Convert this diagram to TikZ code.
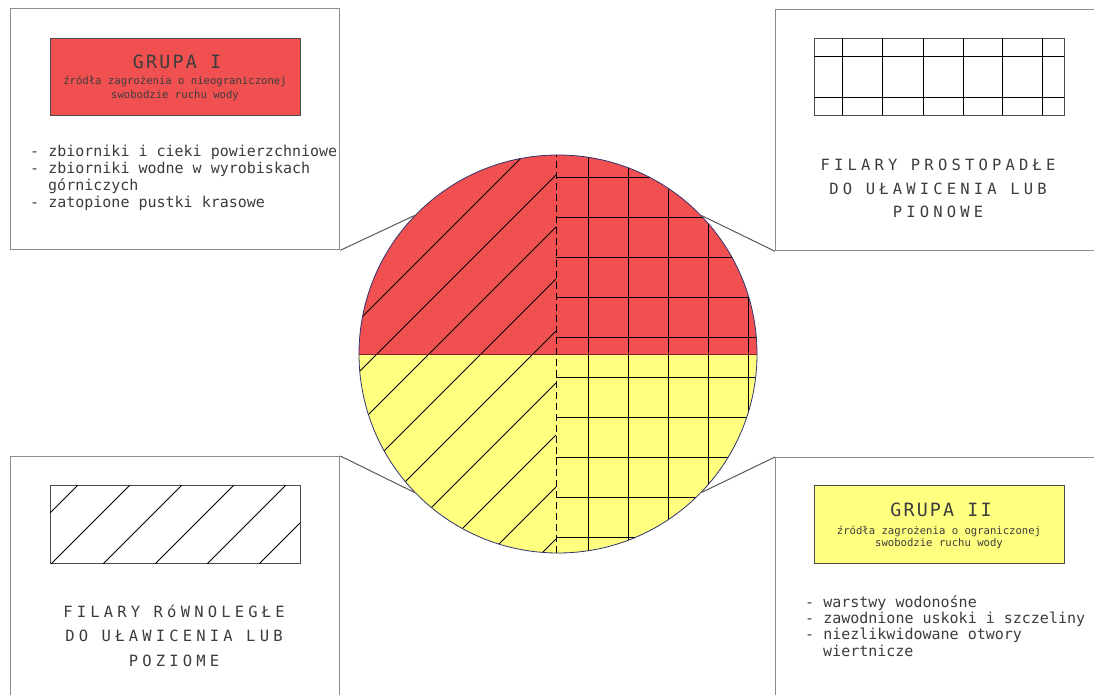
\documentclass[tikz,border=0pt]{standalone}
\usepackage{fontspec}
\newfontfamily\cad{DejaVu Sans Mono}
\newfontfamily\cadw{DejaVu Sans Mono}[LetterSpace=27]
\newfontfamily\cadg{DejaVu Sans Mono}[LetterSpace=12]
\definecolor{grpred}{RGB}{240,80,80}
\definecolor{grpyel}{RGB}{255,255,128}
\definecolor{txtgray}{RGB}{60,60,60}
\definecolor{framegray}{RGB}{140,140,140}
\definecolor{rim}{RGB}{50,50,110}
\definecolor{splitred}{RGB}{140,30,40}
\begin{document}
\begin{tikzpicture}[x=1pt,y=-1pt,
  frame/.style={draw=framegray, line width=1.3pt, rectangle, inner sep=0pt, anchor=north west},
  link/.style={draw=black!65, line width=1pt},
  hatchline/.style={black, line width=0.8pt},
  legend/.style={draw=black!70, line width=0.9pt, rectangle, inner sep=0pt, anchor=north west},
  lst/.style={font=\cad\fontsize{15}{17}\selectfont, text=txtgray, anchor=base west, inner sep=0pt},
  capt/.style={font=\cadw\fontsize{15.5}{18}\selectfont, text=txtgray, anchor=base, inner sep=0pt},
  ttl/.style={font=\cadg\fontsize{18.3}{20}\selectfont, text=txtgray, anchor=base, inner sep=0pt},
  sub/.style={font=\cad\fontsize{10.6}{12}\selectfont, text=txtgray, anchor=base, inner sep=0pt},
]
\useasboundingbox (0,0) rectangle (1094,695);
\fill[white] (0,0) rectangle (1094,695);
\clip (0,0) rectangle (1094,695);

% frames
\node[frame, minimum width=329pt, minimum height=241pt] (tl) at (10,8) {};
\node[frame, minimum width=345pt, minimum height=241pt] (tr) at (775,9) {};
\node[frame, minimum width=329pt, minimum height=260pt] (bl) at (10,456) {};
\node[frame, minimum width=345pt, minimum height=260pt] (br) at (775,457) {};

% circle
\begin{scope}
  \clip (558,354) circle [radius=199pt];
  \fill[grpred] (350,140) rectangle (770,354);
  \fill[grpyel] (350,354) rectangle (770,570);
  \begin{scope}
    \clip (340,140) rectangle (556,570);
    \foreach \k in {-3,...,8} \draw[hatchline] (556,175+52*\k) -- ++(-460,460);
  \end{scope}
  \begin{scope}
    \clip (556,140) rectangle (770,570);
    \foreach \xx in {588,628,...,748} \draw[hatchline] (\xx,140) -- (\xx,570);
    \foreach \yy in {177,217,...,537} \draw[hatchline] (556,\yy) -- (770,\yy);
  \end{scope}
  \draw[splitred, line width=1pt] (350,354) -- (770,354);
  \draw[black, line width=0.8pt, dash pattern=on 7pt off 4pt] (556,150) -- (556,560);
\end{scope}
\node[circle, draw=rim, line width=0.8pt, minimum size=398pt, inner sep=0pt] (c) at (558,354) {};

% connectors
\draw[link] (tl.south east) -- (c.136);
\draw[link] (tr.south west) -- (c.44);
\draw[link] (bl.north east) -- (c.224);
\draw[link] (br.north west) -- (c.316);

% legend: group I
\node[legend, fill=grpred, minimum width=250pt, minimum height=77pt] (g1) at (50,38) {};
\node[ttl] (g1t) at (177,68.3) {GRUPA I};
\node[sub] (g1s1) at (175,85) {źródła zagrożenia o nieograniczonej};
\node[sub] (g1s2) at (175,98.3) {swobodzie ruchu wody};
\node[lst] (l11) at (30,156.7) {- zbiorniki i cieki powierzchniowe};
\node[lst] (l12) at (30,173.3) {- zbiorniki wodne w wyrobiskach};
\node[lst] (l13) at (48,190) {górniczych};
\node[lst] (l14) at (30,207.3) {- zatopione pustki krasowe};

% legend: perpendicular pillars
\node[legend, minimum width=250pt, minimum height=77pt] (pg) at (814,38) {};
\foreach \xx in {842,882,923,963,1002,1042} \draw[hatchline] (\xx,38) -- (\xx,115);
\foreach \yy in {56,97} \draw[hatchline] (814,\yy) -- (1064,\yy);
\node[capt] (pc1) at (938,170.7) {FILARY PROSTOPADŁE};
\node[capt] (pc2) at (938,194) {DO UŁAWICENIA LUB};
\node[capt] (pc3) at (938,217) {PIONOWE};

% legend: parallel pillars
\node[legend, minimum width=250pt, minimum height=78pt] (hg) at (50,485) {};
\begin{scope}
  \clip (50,485) rectangle (300,563);
  \foreach \k in {0,...,5} \draw[hatchline] (78+52*\k,485) -- ++(-110,110);
\end{scope}
\node[capt] (hc1) at (174,617) {FILARY RóWNOLEGŁE};
\node[capt] (hc2) at (174,641.7) {DO UŁAWICENIA LUB};
\node[capt] (hc3) at (174,666) {POZIOME};

% legend: group II
\node[legend, fill=grpyel, minimum width=250pt, minimum height=78pt] (g2) at (814,485) {};
\node[ttl] (g2t) at (941,516.7) {GRUPA II};
\node[sub] (g2s1) at (939,534) {źródła zagrożenia o ograniczonej};
\node[sub] (g2s2) at (939,546.7) {swobodzie ruchu wody};
\node[lst] (l21) at (805,607) {- warstwy wodonośne};
\node[lst] (l22) at (805,623.5) {- zawodnione uskoki i szczeliny};
\node[lst] (l23) at (805,639.5) {- niezlikwidowane otwory};
\node[lst] (l24) at (823,656) {wiertnicze};
\end{tikzpicture}
\end{document}
